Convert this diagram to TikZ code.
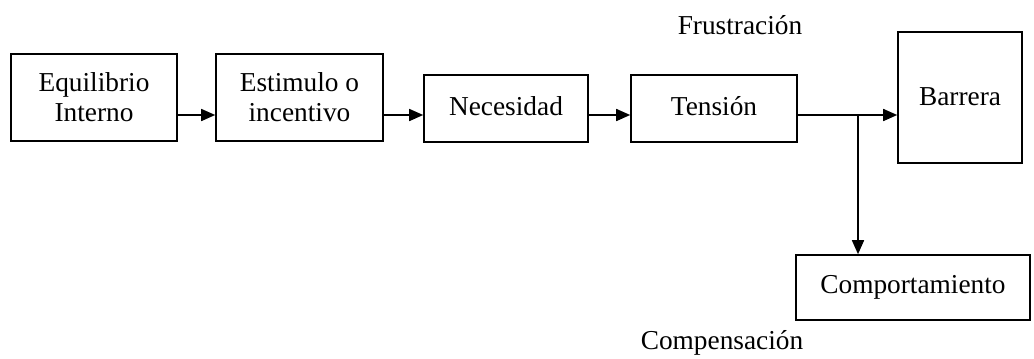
\documentclass[tikz,border=0pt]{standalone}
\usepackage{fontspec}
\setmainfont{Liberation Serif}
\usetikzlibrary{arrows.meta}
\begin{document}
\begin{tikzpicture}[x=0.75pt,y=-0.75pt,
 box/.style={draw,line width=1.2pt,inner sep=0pt,align=center,font=\fontsize{20.5}{22.5}\selectfont},
 arr/.style={line width=1.2pt,-{Triangle[length=10.5pt,width=9pt]}},
 conn/.style={line width=1.2pt},
 lbl/.style={inner sep=0pt,font=\fontsize{20.5}{22.5}\selectfont}]
\useasboundingbox (0,0) rectangle (1034,358);
\node[box,minimum width=124.5pt,minimum height=65.25pt] (eq) at (94,97.5) {Equilibrio\\Interno};
\node[box,minimum width=125.25pt,minimum height=65.25pt] (est) at (299.5,97.5) {Estimulo o\\incentivo};
\node[box,minimum width=123pt,minimum height=50.25pt] (nec) at (506,108.5) {\raisebox{4pt}{Necesidad}};
\node[box,minimum width=124.5pt,minimum height=50.25pt] (ten) at (714,108.5) {\raisebox{4pt}{Tensión}};
\node[box,minimum width=93pt,minimum height=98.25pt] (bar) at (960,97.5) {\raisebox{2pt}{Barrera}};
\node[box,minimum width=175.5pt,minimum height=48.75pt] (comp) at (913,287.5) {Comportamiento};
\node[lbl] (fru) at (740,25) {Frustración};
\node[lbl] (cmp) at (722,343) {Compensación};
\coordinate (ay) at (0,115);
\coordinate (j) at (858,115);
\draw[arr] (eq.east |- ay) -- (est.west |- ay);
\draw[arr] (est.east |- ay) -- (nec.west |- ay);
\draw[arr] (nec.east |- ay) -- (ten.west |- ay);
\draw[conn] (ten.east |- ay) -- (j);
\draw[arr] (j) -- (bar.west |- ay);
\draw[arr] (j) -- (comp.north -| j);
\end{tikzpicture}
\end{document}
